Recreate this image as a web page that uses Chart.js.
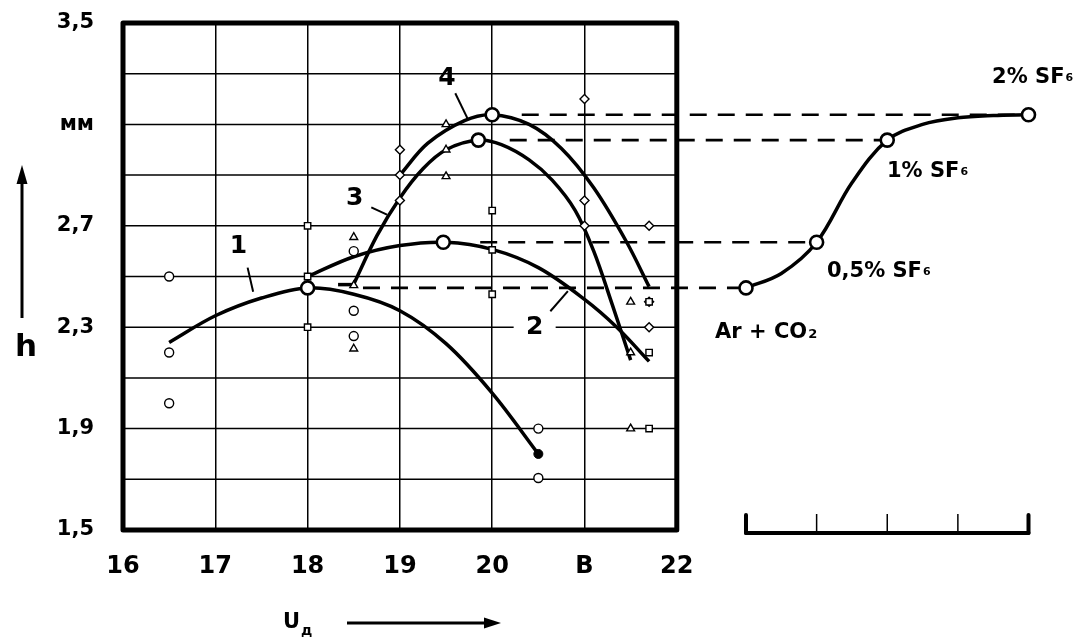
<!DOCTYPE html>
<html><head><meta charset="utf-8">
<script src="https://cdn.jsdelivr.net/npm/chart.js@4.4.1/dist/chart.umd.min.js"></script>
<style>html,body{margin:0;padding:0;background:#fff;}</style>
</head><body>
<canvas id="c" width="1078" height="639"></canvas>
<script>
// ---- axis ticks ----
const xTickValues = [16, 17, 18, 19, 20, 21, 22];
const xTickLabels = ['16', '17', '18', '19', '20', 'В', '22'];
const yTickValues = [3.5, 3.1, 2.7, 2.3, 1.9, 1.5];
const yTickLabels = ['3,5', 'мм', '2,7', '2,3', '1,9', '1,5'];
const yGridValues = [3.3, 3.1, 2.9, 2.7, 2.5, 2.3, 2.1, 1.9, 1.7];

// ---- curves (U_д, h) ----
const curve1X = [16.5, 17, 17.5, 18, 18.5, 19, 19.5, 20, 20.5];
const curve1Y = [2.24, 2.345, 2.415, 2.455, 2.43, 2.365, 2.235, 2.04, 1.80];
const curve2X = [18, 18.5, 19, 19.5, 20, 20.5, 21, 21.35, 21.7];
const curve2Y = [2.5, 2.578, 2.622, 2.635, 2.607, 2.535, 2.41, 2.30, 2.165];
const curve3X = [18.5, 18.75, 19, 19.25, 19.5, 19.85, 20.1, 20.4, 20.65, 20.9, 21.1, 21.3, 21.5];
const curve3Y = [2.47, 2.66, 2.81, 2.925, 3.0, 3.038, 3.02, 2.96, 2.88, 2.76, 2.60, 2.39, 2.17];
const curve3StubX = [18.33, 18.5];
const curve3StubY = [2.468, 2.468];
const curve4X = [19, 19.3, 19.7, 20, 20.4, 20.75, 21.1, 21.45, 21.7];
const curve4Y = [2.90, 3.025, 3.115, 3.138, 3.10, 3.005, 2.85, 2.64, 2.46];

// ---- measured points ----
const circleX = [16.5, 16.5, 16.5, 18.5, 18.5, 18.5, 20.5, 20.5];
const circleY = [2.5, 2.2, 2.0, 2.6, 2.365, 2.265, 1.9, 1.705];
const squareX = [18, 18, 18, 20, 20, 20, 21.7, 21.7, 21.7];
const squareY = [2.7, 2.5, 2.3, 2.76, 2.605, 2.43, 2.4, 2.2, 1.9];
const triangleX = [18.5, 18.5, 18.5, 19.5, 19.5, 19.5, 21.5, 21.5, 21.5];
const triangleY = [2.655, 2.465, 2.215, 3.1, 3.0, 2.895, 2.4, 2.2, 1.9];
const diamondX = [19, 19, 19, 21, 21, 21, 21.7, 21.7, 21.7];
const diamondY = [3.0, 2.9, 2.8, 3.2, 2.8, 2.7, 2.7, 2.4, 2.3];
const curve1EndX = [20.5];
const curve1EndY = [1.80];

// ---- maxima of curves 1..4 and SF6 dependence ----
const peakX = [18, 19.47, 19.85, 20];
const peakLevels = [2.455, 2.635, 3.038, 3.138];
const dashStartX = [18.6, 19.87, 20.19, 20.32];
const sfPercent = [0, 0.5, 1, 2];
const sfLabels = ['Ar + CO', '0,5% SF', '1% SF', '2% SF'];
const sfLabelSubs = ['2', '6', '6', '6'];
const sfCurveX = [0, 0.25, 0.5, 0.75, 1, 1.25, 1.5, 1.75, 2];
const sfCurveY = [2.455, 2.512, 2.635, 2.87, 3.038, 3.10, 3.126, 3.135, 3.138];
const sfBarTicks = [0, 0.5, 1, 1.5, 2];

const curveNames = ['1', '2', '3', '4'];

const FONT = '"DejaVu Sans", "Liberation Sans", sans-serif';
const pts = (xs, ys) => xs.map((x, i) => ({x, y: ys[i]}));

const curveStyle = {showLine: true, borderColor: '#000', borderWidth: 3.5, pointRadius: 0,
  pointHoverRadius: 0, tension: 0.35, fill: false, order: 3};
const markStyle = {showLine: false, pointRadius: 4.5, pointBorderWidth: 1.4, pointBorderColor: '#000',
  pointBackgroundColor: '#fff', pointHoverRadius: 4.5, order: 2};
const bigStyle = {showLine: false, pointStyle: 'circle', pointRadius: 6.5, pointBorderWidth: 2.6,
  pointBorderColor: '#000', pointBackgroundColor: '#fff', pointHoverRadius: 6.5, order: 0};

// annotation placement (data coordinates)
const notes = {
  labels: [ {x: 17.25, y: 2.618}, {x: 20.46, y: 2.299}, {x: 18.51, y: 2.807}, {x: 19.51, y: 3.283} ],
  leaders: [ [17.35, 2.535, 17.41, 2.44], [20.63, 2.363, 20.82, 2.442], [18.69, 2.773, 18.86, 2.744], [19.60, 3.223, 19.74, 3.118] ],
  sfLabelPos: [ {x: -0.219, y: 2.287}, {x: 0.573, y: 2.528}, {x: 0.998, y: 2.921}, {x: 1.742, y: 3.293} ]
};

function txt(ctx, s, x, y, size, align) {
  ctx.font = 'bold ' + size + 'px ' + FONT;
  ctx.textAlign = align || 'center'; ctx.textBaseline = 'middle'; ctx.fillStyle = '#000';
  ctx.fillText(s, x, y);
}
function txtSub(ctx, main, sub, x, yMid, size, subSize, subDy) {
  ctx.font = 'bold ' + size + 'px ' + FONT;
  ctx.textAlign = 'left'; ctx.textBaseline = 'alphabetic'; ctx.fillStyle = '#000';
  const base = yMid + size * 0.729 / 2;
  ctx.fillText(main, x, base);
  const w = ctx.measureText(main).width;
  ctx.font = 'bold ' + subSize + 'px ' + FONT;
  ctx.fillText(sub, x + w + 1, base + subDy);
}
function line(ctx, x1, y1, x2, y2, w) {
  ctx.lineWidth = w; ctx.beginPath(); ctx.moveTo(x1, y1); ctx.lineTo(x2, y2); ctx.stroke();
}

const overlay = {
  id: 'overlay',
  beforeDatasetsDraw(chart) {
    const {ctx, scales: {x, y, x2}} = chart;
    ctx.save();
    ctx.strokeStyle = '#000';
    const xl = x.getPixelForValue(xTickValues[0]);
    const xr = x.getPixelForValue(xTickValues[xTickValues.length - 1]);
    yGridValues.forEach(v => line(ctx, xl, y.getPixelForValue(v), xr, y.getPixelForValue(v), 1.5));
    // white box behind label "2"
    const p2 = notes.labels[1];
    ctx.fillStyle = '#fff';
    ctx.fillRect(x.getPixelForValue(p2.x) - 21, y.getPixelForValue(p2.y) - 12, 42, 24);
    // dashed projection lines
    ctx.setLineDash([17, 11]);
    peakLevels.forEach((lv, i) => {
      const py = y.getPixelForValue(lv);
      line(ctx, x.getPixelForValue(dashStartX[i]), py, x2.getPixelForValue(sfPercent[i]), py, 2.6);
    });
    ctx.setLineDash([]);
    ctx.restore();
  },
  afterDatasetsDraw(chart) {
    const {ctx, scales: {x, y, x2}} = chart;
    ctx.save();
    ctx.strokeStyle = '#000'; ctx.fillStyle = '#000';
    // frame
    const xl = x.getPixelForValue(16), xr = x.getPixelForValue(22);
    const yt = y.getPixelForValue(3.5), yb = y.getPixelForValue(1.5);
    ctx.lineWidth = 5; ctx.lineJoin = 'round';
    ctx.strokeRect(xl, yt, xr - xl, yb - yt);
    // curve labels and leaders
    curveNames.forEach((n, i) => {
      const p = notes.labels[i];
      txt(ctx, n, x.getPixelForValue(p.x), y.getPixelForValue(p.y), 25);
      const l = notes.leaders[i];
      line(ctx, x.getPixelForValue(l[0]), y.getPixelForValue(l[1]), x.getPixelForValue(l[2]), y.getPixelForValue(l[3]), 2);
    });
    // SF6 labels
    sfLabels.forEach((s, i) => {
      const p = notes.sfLabelPos[i];
      const sub = sfLabelSubs[i];
      txtSub(ctx, s, sub, x2.getPixelForValue(p.x), y.getPixelForValue(p.y), 21, i === 0 ? 13 : 11, i === 0 ? 0 : -2);
    });
    // scale bar under the SF6 panel
    const by = yb + 3;
    const bl = x2.getPixelForValue(sfBarTicks[0]), br = x2.getPixelForValue(sfBarTicks[sfBarTicks.length - 1]);
    ctx.lineCap = 'round';
    line(ctx, bl, by, br, by, 4);
    line(ctx, bl, by, bl, by - 18, 4);
    line(ctx, br, by, br, by - 18, 4);
    ctx.lineCap = 'butt';
    sfBarTicks.slice(1, -1).forEach(t => line(ctx, x2.getPixelForValue(t), by, x2.getPixelForValue(t), by - 19, 1.5));
    // h axis title with arrow
    txt(ctx, 'h', 26, 348, 31);
    line(ctx, 22, 318, 22, 180, 3);
    ctx.beginPath(); ctx.moveTo(22, 165); ctx.lineTo(16.5, 184); ctx.lineTo(27.5, 184); ctx.closePath(); ctx.fill();
    // U_д axis title with arrow
    txtSub(ctx, 'U', 'д', 283, 620.5, 21, 14, 7);
    line(ctx, 347, 623, 488, 623, 3);
    ctx.beginPath(); ctx.moveTo(501, 623); ctx.lineTo(484, 617.5); ctx.lineTo(484, 628.5); ctx.closePath(); ctx.fill();
    ctx.restore();
  }
};

new Chart(document.getElementById('c'), {
  type: 'scatter',
  data: {
    datasets: [
      Object.assign({data: pts(peakX, peakLevels)}, bigStyle),
      Object.assign({data: pts(sfPercent, peakLevels), xAxisID: 'x2'}, bigStyle),
      {data: pts(curve1EndX, curve1EndY), showLine: false, pointRadius: 4.5, pointBackgroundColor: '#000',
        pointBorderColor: '#000', pointHoverRadius: 4.5, order: 1},
      Object.assign({data: pts(circleX, circleY), pointStyle: 'circle', pointRadius: 4.3}, markStyle),
      Object.assign({data: pts(squareX, squareY), pointStyle: 'rect', pointRadius: 5.8}, markStyle),
      Object.assign({data: pts(triangleX, triangleY), pointStyle: 'triangle', pointRadius: 5}, markStyle),
      Object.assign({data: pts(diamondX, diamondY), pointStyle: 'rectRot', pointRadius: 5}, markStyle),
      Object.assign({data: pts(curve1X, curve1Y)}, curveStyle),
      Object.assign({data: pts(curve2X, curve2Y)}, curveStyle),
      Object.assign({data: pts(curve3X, curve3Y)}, curveStyle),
      Object.assign({data: pts(curve3StubX, curve3StubY)}, curveStyle, {tension: 0}),
      Object.assign({data: pts(curve4X, curve4Y)}, curveStyle),
      Object.assign({data: pts(sfCurveX, sfCurveY), xAxisID: 'x2'}, curveStyle)
    ]
  },
  options: {
    responsive: false,
    animation: false,
    devicePixelRatio: 1,
    layout: {padding: {top: 23, right: 32, left: 0, bottom: 0}},
    plugins: {legend: {display: false}, tooltip: {enabled: false}},
    events: [],
    scales: {
      x: {
        type: 'linear', position: 'bottom', min: 16, max: 26,
        afterBuildTicks: s => { s.ticks = xTickValues.map(v => ({value: v})); },
        afterFit: s => { s.height = 109; s.paddingLeft = 0; s.paddingRight = 0; },
        ticks: {
          autoSkip: false, maxRotation: 0, padding: 22, color: '#000',
          font: {family: FONT, weight: 'bold', size: 24},
          callback: v => xTickLabels[xTickValues.indexOf(v)]
        },
        grid: {display: true, color: '#000', lineWidth: 1.5, drawTicks: false},
        border: {display: false}
      },
      x2: {type: 'linear', display: false, min: -4.4106, max: 2.1239},
      y: {
        type: 'linear', position: 'left', min: 1.5, max: 3.5,
        afterBuildTicks: s => { s.ticks = yTickValues.map(v => ({value: v})); },
        afterFit: s => { s.width = 123; s.paddingTop = 0; s.paddingBottom = 0; },
        ticks: {
          autoSkip: false, padding: 29, color: '#000',
          font: {family: FONT, weight: 'bold', size: 21},
          callback: v => yTickLabels[yTickValues.indexOf(v)]
        },
        grid: {display: false, drawTicks: false},
        border: {display: false}
      }
    }
  },
  plugins: [overlay]
});
</script>
</body></html>
